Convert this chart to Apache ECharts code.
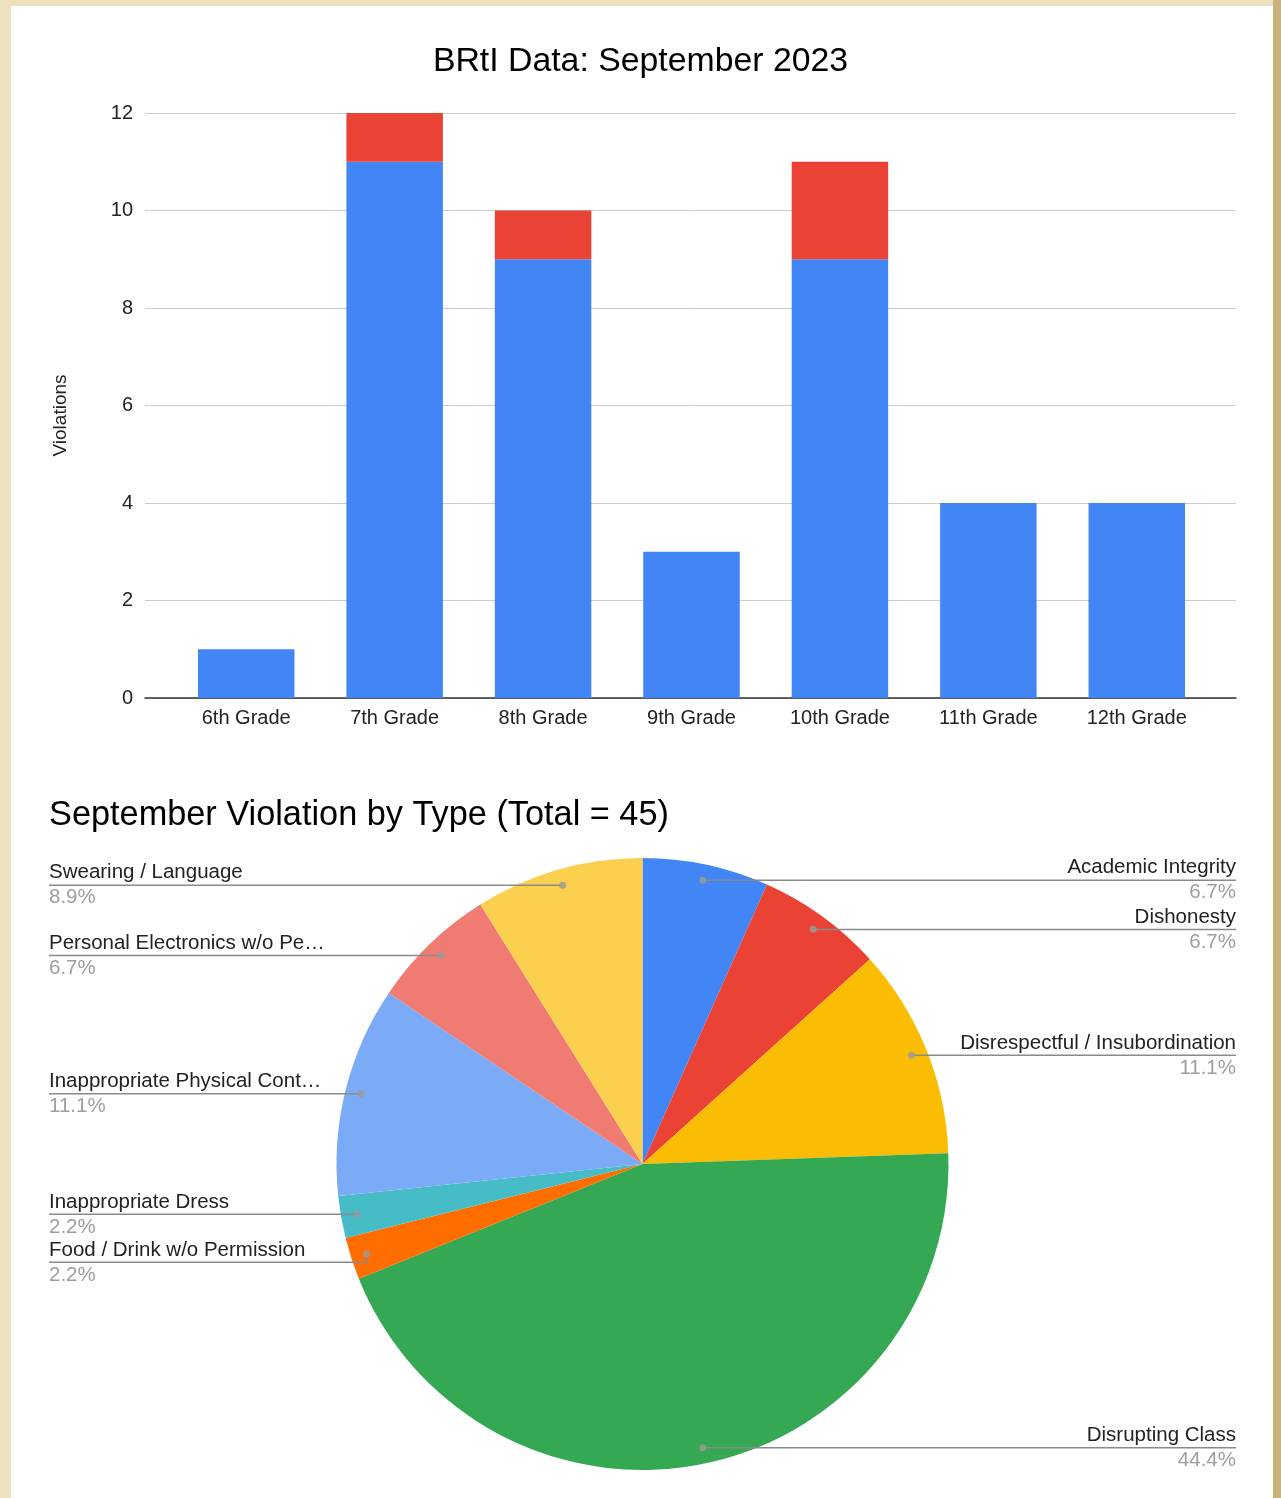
<!DOCTYPE html>
<html>
<head>
<meta charset="utf-8">
<script src="https://cdn.jsdelivr.net/npm/echarts@6/dist/echarts.min.js"></script>
<style>
html,body{margin:0;padding:0;width:1281px;height:1498px;overflow:hidden;background:#ede2bd;}
#card{position:absolute;left:11px;top:6px;width:1262px;height:1500px;background:#fff;}
#edge{position:absolute;left:1273px;top:0;width:8px;height:1498px;background:#c9b37c;}
#chart{position:absolute;left:0;top:0;width:1281px;height:1498px;}
</style>
</head>
<body>
<div id="card"></div>
<div id="edge"></div>
<div id="chart"></div>
<script>
// ---- Data ----
const grades = ['6th Grade', '7th Grade', '8th Grade', '9th Grade', '10th Grade', '11th Grade', '12th Grade'];
const blueValues = [1, 11, 9, 3, 9, 4, 4];
const redValues = [0, 1, 1, 0, 2, 0, 0];
const yTicks = { min: 0, max: 12, interval: 2 };

const violationTypes = [
  'Academic Integrity',
  'Dishonesty',
  'Disrespectful / Insubordination',
  'Disrupting Class',
  'Food / Drink w/o Permission',
  'Inappropriate Dress',
  'Inappropriate Physical Cont…',
  'Personal Electronics w/o Pe…',
  'Swearing / Language'
];
const violationCounts = [3, 3, 5, 20, 1, 1, 5, 3, 4];
const pieColors = ['#4285f4', '#ea4335', '#fbbc04', '#34a853', '#ff6d01', '#46bdc6', '#7baaf7', '#f07b72', '#fcd04f'];

const FONT = 'Arial, "Liberation Sans", sans-serif';
const chart = echarts.init(document.getElementById('chart'), null, { renderer: 'canvas' });

const pieData = violationTypes.map((n, i) => ({ name: n, value: violationCounts[i], itemStyle: { color: pieColors[i] } }));
const labelData = violationTypes.map((n, i) => ({ name: n, value: violationCounts[i] }));
const total = violationCounts.reduce((a, b) => a + b, 0);
// label-line anchor dots at each slice's mid angle (derived from the counts)
let cum = 0;
const dotData = violationCounts.map(v => { const mid = cum + v / 2; cum += v; return [0.948, mid]; });

const PIE_CX = 642.5, PIE_CY = 1164, PIE_R = 306;

const option = {
  backgroundColor: 'transparent',
  textStyle: { fontFamily: FONT },
  animation: false,
  title: [
    { text: 'BRtI Data: September 2023', left: 'center', top: 40,
      textStyle: { fontFamily: FONT, fontSize: 33.8, fontWeight: 'normal', color: '#000' } },
    { text: 'September Violation by Type (Total = 45)', left: 44, top: 794,
      textStyle: { fontFamily: FONT, fontSize: 34.3, fontWeight: 'normal', color: '#000' } }
  ],
  grid: [
    { left: 145, right: 45, top: 113, bottom: 800 },
    { left: 172, right: 70, top: 113, bottom: 800 }
  ],
  polar: { center: [PIE_CX, PIE_CY], radius: PIE_R },
  angleAxis: { type: 'value', min: 0, max: total, startAngle: 90, clockwise: true, show: false },
  radiusAxis: { type: 'value', min: 0, max: 1, show: false },
  xAxis: [
    { type: 'category', gridIndex: 0, data: grades,
      axisLine: { show: true, lineStyle: { color: '#333', width: 1.5 } },
      axisTick: { show: false }, axisLabel: { show: false } },
    { type: 'category', gridIndex: 1, data: grades,
      axisLine: { show: false }, axisTick: { show: false },
      axisLabel: { fontFamily: FONT, fontSize: 20, color: '#222', margin: 10 } }
  ],
  yAxis: [
    { type: 'value', gridIndex: 0, min: yTicks.min, max: yTicks.max, interval: yTicks.interval,
      name: 'Violations', nameLocation: 'middle', nameRotate: 90, nameGap: 75,
      nameTextStyle: { fontFamily: FONT, fontSize: 19, color: '#222', padding: [0, 20, 0, 0] },
      axisLine: { show: false }, axisTick: { show: false },
      axisLabel: { fontFamily: FONT, fontSize: 20, color: '#222', margin: 12 },
      splitLine: { lineStyle: { color: '#cccccc', width: 1 } } },
    { type: 'value', gridIndex: 1, min: yTicks.min, max: yTicks.max, interval: yTicks.interval, show: false,
      splitLine: { show: false } }
  ],
  series: [
    { type: 'bar', name: 'Violations', xAxisIndex: 1, yAxisIndex: 1, stack: 'v', data: blueValues,
      barCategoryGap: '35%', itemStyle: { color: '#4285f4' } },
    { type: 'bar', name: 'Repeat', xAxisIndex: 1, yAxisIndex: 1, stack: 'v', data: redValues,
      barCategoryGap: '35%', itemStyle: { color: '#ea4335' } },
    { type: 'pie', left: 49, right: 45, top: 0, bottom: 0,
      center: ['50%', PIE_CY], radius: PIE_R, startAngle: 90, clockwise: true,
      data: pieData, label: { show: false }, labelLine: { show: false },
      itemStyle: { borderWidth: 0 },
      emphasis: { disabled: true }, z: 2 },
    { type: 'pie', left: 49, right: 45, top: 0, bottom: 0,
      center: ['50%', PIE_CY], radius: 290, startAngle: 90, clockwise: true,
      data: labelData, silent: true, percentPrecision: 1,
      itemStyle: { color: 'rgba(0,0,0,0)', borderWidth: 0 },
      emphasis: { disabled: true },
      label: {
        show: true, alignTo: 'edge', edgeDistance: 0, overflow: 'none',
        formatter: '{n|{b}}\n{p|{d}%}',
        rich: {
          n: { fontFamily: FONT, fontSize: 20.5, color: '#222', lineHeight: 25 },
          p: { fontFamily: FONT, fontSize: 20.5, color: '#9e9e9e', lineHeight: 25 }
        }
      },
      labelLine: { show: true, length: 0, length2: 10, lineStyle: { color: '#8a8a8a', width: 1.5 } },
      labelLayout: function (params) {
        const isLeft = params.labelRect.x < chart.getWidth() / 2;
        const points = params.labelLinePoints;
        if (points) {
          points[2][0] = isLeft ? params.labelRect.x : params.labelRect.x + params.labelRect.width;
        }
        return { labelLinePoints: points };
      },
      z: 3 },
    { type: 'scatter', coordinateSystem: 'polar', data: dotData, symbol: 'circle', symbolSize: 7,
      itemStyle: { color: '#9a9a9a' }, silent: true, z: 4 }
  ]
};
chart.setOption(option);
</script>
</body>
</html>
